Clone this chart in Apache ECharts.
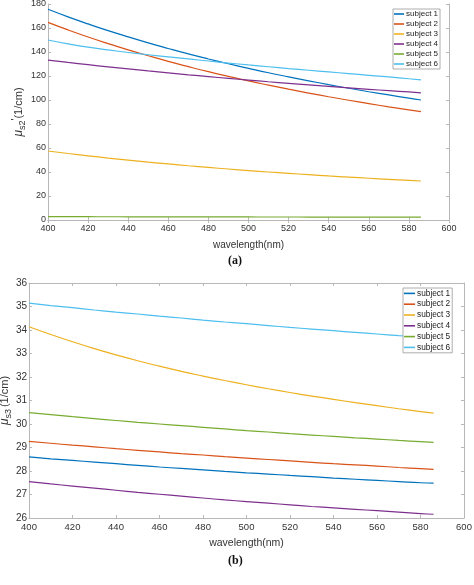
<!DOCTYPE html>
<html><head><meta charset="utf-8">
<script src="https://cdn.jsdelivr.net/npm/echarts@6/dist/echarts.min.js"></script>
<style>html,body{margin:0;padding:0;background:#fff}#c{width:474px;height:585px}</style>
</head><body><div id="c"></div>
<script>
var wavelengths = [400,410,420,430,440,450,460,470,480,490,500,510,520,530,540,550,560,570,580,586];
var names = ['subject 1','subject 2','subject 3','subject 4','subject 5','subject 6'];
var colors = ['#0072BD','#D95319','#EDB120','#7E2F8E','#77AC30','#4DBEEE'];
// (a) mu_s2'
var a_s1 = [175.6,169.3,163.4,157.8,152.6,147.6,142.9,138.4,134.2,130.2,126.4,122.7,119.3,116.0,112.8,109.8,106.9,104.2,101.5,100.0];
var a_s2 = [164.7,158.4,152.5,147.0,141.8,136.9,132.2,127.8,123.6,119.7,115.9,112.4,109.0,105.8,102.7,99.8,97.0,94.3,91.8,90.3];
var a_s3 = [57.5,55.4,53.5,51.6,49.9,48.2,46.7,45.2,43.8,42.5,41.2,40.0,38.9,37.8,36.7,35.7,34.8,33.9,33.0,32.5];
var a_s4 = [133.3,131.3,129.4,127.6,125.9,124.2,122.6,121.0,119.5,118.0,116.6,115.2,113.9,112.6,111.3,110.1,108.9,107.8,106.7,106.0];
var a_s5 = [2.8,2.77,2.74,2.71,2.68,2.65,2.62,2.6,2.58,2.55,2.53,2.51,2.49,2.47,2.45,2.43,2.41,2.39,2.37,2.36];
var a_s6 = [150.0,146.8,144.0,141.7,139.6,137.7,135.9,134.2,132.5,130.8,129.2,127.7,126.2,124.8,123.4,122.0,120.6,119.2,117.7,116.8];
// (b) mu_s3'
var b_s1 = [28.60,28.52,28.45,28.38,28.31,28.24,28.17,28.11,28.05,27.98,27.92,27.87,27.81,27.76,27.70,27.65,27.60,27.55,27.50,27.48];
var b_s2 = [29.26,29.18,29.10,29.03,28.95,28.88,28.81,28.74,28.68,28.61,28.55,28.49,28.43,28.37,28.31,28.26,28.21,28.15,28.10,28.07];
var b_s3 = [34.14,33.81,33.50,33.21,32.94,32.69,32.46,32.24,32.04,31.85,31.67,31.50,31.34,31.19,31.05,30.91,30.78,30.65,30.53,30.46];
var b_s4 = [27.55,27.45,27.36,27.27,27.18,27.09,27.01,26.93,26.85,26.77,26.70,26.63,26.56,26.49,26.43,26.37,26.31,26.25,26.19,26.16];
var b_s5 = [30.48,30.40,30.31,30.23,30.15,30.07,30.00,29.93,29.86,29.79,29.72,29.66,29.59,29.53,29.47,29.41,29.36,29.30,29.25,29.22];
var b_s6 = [35.14,35.04,34.95,34.85,34.76,34.68,34.59,34.51,34.42,34.34,34.27,34.19,34.11,34.04,33.97,33.90,33.83,33.76,33.70,33.65];
var xTicks = [400,420,440,460,480,500,520,540,560,580,600];

var FONT = '"Liberation Sans", Arial, sans-serif';
var axisCol = '#b8b8b8', labCol = '#333';
function pairs(v){ return wavelengths.map(function(w,i){ return [w, v[i]]; }); }
function xAx(grid, top, fs){
  return {type:'value', gridIndex:grid, position: top?'top':'bottom', min:400, max:600, interval:20,
    axisLine:{show:true,lineStyle:{color:axisCol,width:1}},
    axisTick:{show:true,inside:true,length:3,lineStyle:{color:axisCol}},
    axisLabel:{show:!top,color:labCol,fontSize:fs,fontFamily:FONT,margin:4},
    splitLine:{show:false},
    name: top?'':'wavelength(nm)', nameLocation:'middle', nameGap:20, nameMoveOverlap:false,
    nameTextStyle:{color:labCol,fontSize:fs+1,fontFamily:FONT}};
}
function yAx(grid, right, min, max, itv, fs, nfs, nm, gap){
  return {type:'value', gridIndex:grid, position: right?'right':'left', min:min, max:max, interval:itv,
    axisLine:{show:true,lineStyle:{color:axisCol,width:1}},
    axisTick:{show:true,inside:true,length:3,lineStyle:{color:axisCol}},
    axisLabel:{show:!right,color:labCol,fontSize:fs,fontFamily:FONT,margin:2},
    splitLine:{show:false},
    name: right?'':nm, nameLocation:'middle', nameRotate:90, nameGap:gap, nameMoveOverlap:false,
    nameTextStyle:{color:labCol,fontFamily:FONT,
      rich:{mu:{fontSize:nfs+1,fontFamily:FONT,fontStyle:'italic',color:labCol,lineHeight:16,verticalAlign:'middle'},
            sub:{fontSize:nfs-2,fontFamily:FONT,color:labCol,lineHeight:16,verticalAlign:'bottom',padding:[7,0,0,0]},
            sup:{fontSize:nfs-1,fontFamily:FONT,color:labCol,lineHeight:16,verticalAlign:'top',padding:[0,0,5,0]},
            n:{fontSize:nfs,fontFamily:FONT,color:labCol,lineHeight:16,verticalAlign:'middle'}}}};
}
var aData = [a_s1,a_s2,a_s3,a_s4,a_s5,a_s6];
var bData = [b_s1,b_s2,b_s3,b_s4,b_s5,b_s6];
var series = [];
aData.forEach(function(v,i){ series.push({name:names[i],type:'line',xAxisIndex:0,yAxisIndex:0,data:pairs(v),symbol:'none',smooth:true,lineStyle:{width:1.2,color:colors[i]},itemStyle:{color:colors[i]},silent:true}); });
bData.forEach(function(v,i){ series.push({name:names[i],type:'line',xAxisIndex:2,yAxisIndex:2,data:pairs(v),symbol:'none',smooth:true,lineStyle:{width:1.2,color:colors[i]},itemStyle:{color:colors[i]},silent:true}); });

function leg(left, top, fs, lh, iw){
  return {orient:'vertical', left:left, top:top, itemGap:0, itemWidth:iw, itemHeight:1.6, icon:'rect',
    padding:[0,2,0,1], backgroundColor:'#fff', borderColor:'#999', borderWidth:0.8, borderRadius:0,
    data:names.map(function(n,i){return {name:n,itemStyle:{color:colors[i]}};}),
    textStyle:{fontSize:fs,fontFamily:FONT,color:'#222',lineHeight:lh,padding:[0,0,0,-3]}, selectedMode:false};
}

var chart = echarts.init(document.getElementById('c'), null, {renderer:'canvas'});
chart.setOption({
  animation:false, backgroundColor:'#fff',
  grid:[{left:48, top:4, width:401, height:216, containLabel:false, outerBoundsMode:'none'},
        {left:29, top:283, width:435, height:235, containLabel:false, outerBoundsMode:'none'}],
  xAxis:[xAx(0,false,9), xAx(0,true,9), xAx(1,false,9.5), xAx(1,true,9.5)],
  yAxis:[yAx(0,false,0,180,20,9,11,"{mu|μ}{sub|s2}{sup|'}{n|(1/cm)}",21), yAx(0,true,0,180,20,9,11,'',0),
         yAx(1,false,26,36,1,10,11,"{mu|μ}{sub|s3}{sup|'}{n|(1/cm)}",16), yAx(1,true,26,36,1,10,11,'',0)],
  legend:[leg(393,9,8,10,10), leg(403,288,8.3,10.8,11)],
  series:series,
  graphic:[
    {type:'text', left:228, top:255, style:{text:'(a)', font:'bold 12px "Liberation Serif", serif', fill:'#111'}},
    {type:'text', left:228, top:555, style:{text:'(b)', font:'bold 12px "Liberation Serif", serif', fill:'#111'}}
  ]
});
</script></body></html>
